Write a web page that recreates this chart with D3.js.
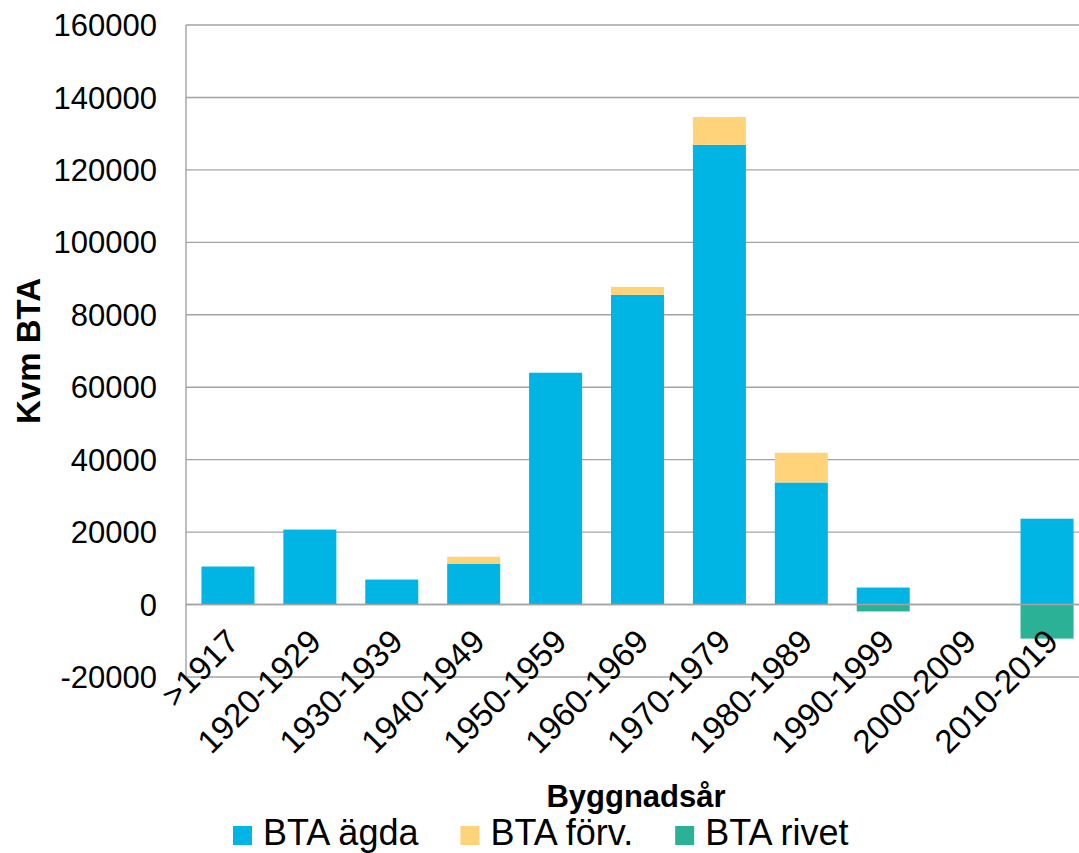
<!DOCTYPE html>
<html>
<head>
<meta charset="utf-8">
<script src="https://cdn.jsdelivr.net/npm/d3@7"></script>
<style>
  body { margin: 0; background: #fff; }
  text { font-family: "Liberation Sans", Arial, sans-serif; fill: #000; }
</style>
</head>
<body>
<script>
// data
var categories = [">1917", "1920-1929", "1930-1939", "1940-1949", "1950-1959", "1960-1969",
  "1970-1979", "1980-1989", "1990-1999", "2000-2009", "2010-2019"];
var agda  = [10500, 20700, 6900, 11300, 64000, 85500, 126900, 33700, 4700, 0, 23700];
var forv  = [0, 0, 0, 1900, 0, 2200, 7700, 8200, 0, 0, 0];
var rivet = [0, 0, 0, 0, 0, 0, 0, 0, -1900, 0, -9400];
var yTicks = [-20000, 0, 20000, 40000, 60000, 80000, 100000, 120000, 140000, 160000];
var seriesNames = ["BTA ägda", "BTA förv.", "BTA rivet"];
var colors = ["#00b4e3", "#ffd379", "#2ab196"];

var width = 1079, height = 853;

var svg = d3.select("body")
  .append("svg")
  .attr("width", width)
  .attr("height", height);

var x = d3.scaleBand()
  .domain(categories)
  .range([187, 1088])
  .paddingInner(0.353)
  .paddingOuter(0.1765);

var y = d3.scaleLinear()
  .domain([-20000, 160000])
  .range([677, 25]);

// gridlines
svg.append("g")
  .selectAll("line")
  .data(yTicks)
  .enter().append("line")
  .attr("x1", 186)
  .attr("x2", width)
  .attr("y1", function (d) { return y(d); })
  .attr("y2", function (d) { return y(d); })
  .style("stroke", "#a3a3a3")
  .style("stroke-width", 1.4);

// y axis line
svg.append("line")
  .attr("x1", 186).attr("x2", 186)
  .attr("y1", y(160000)).attr("y2", y(-20000))
  .style("stroke", "#a3a3a3")
  .style("stroke-width", 1.4);

// y tick labels
svg.append("g")
  .selectAll("text")
  .data(yTicks)
  .enter().append("text")
  .attr("x", 157)
  .attr("y", function (d) { return y(d); })
  .attr("dy", "0.36em")
  .attr("text-anchor", "end")
  .style("font-size", "31px")
  .text(function (d) { return d; });

// stacked bars
var rows = categories.map(function (c, i) {
  return { cat: c, agda: agda[i], forv: forv[i], rivet: rivet[i] };
});

var bars = svg.append("g");
rows.forEach(function (d) {
  // ägda from 0 up
  bars.append("rect")
    .attr("x", x(d.cat))
    .attr("width", x.bandwidth())
    .attr("y", y(d.agda))
    .attr("height", y(0) - y(d.agda))
    .style("fill", colors[0]);
  // förv. on top of ägda
  bars.append("rect")
    .attr("x", x(d.cat))
    .attr("width", x.bandwidth())
    .attr("y", y(d.agda + d.forv))
    .attr("height", y(d.agda) - y(d.agda + d.forv))
    .style("fill", colors[1]);
  // rivet below 0
  bars.append("rect")
    .attr("x", x(d.cat))
    .attr("width", x.bandwidth())
    .attr("y", y(0))
    .attr("height", y(d.rivet) - y(0))
    .style("fill", colors[2]);
});

// zero axis line on top
svg.append("line")
  .attr("x1", 186).attr("x2", width)
  .attr("y1", y(0)).attr("y2", y(0))
  .style("stroke", "#a3a3a3")
  .style("stroke-width", 1.4);

// x labels, rotated
svg.append("g")
  .selectAll("text")
  .data(categories)
  .enter().append("text")
  .attr("text-anchor", "end")
  .attr("transform", function (d) {
    return "translate(" + (x(d) + x.bandwidth() / 2 + 13) + "," + (y(0) + 39) + ") rotate(-45)";
  })
  .style("font-size", "33px")
  .text(function (d) { return d; });

// axis titles
svg.append("text")
  .attr("transform", "translate(40," + ((y(160000) + y(-20000)) / 2) + ") rotate(-90)")
  .attr("text-anchor", "middle")
  .style("font-size", "33px")
  .style("font-weight", "bold")
  .text("Kvm BTA");

svg.append("text")
  .attr("x", 636)
  .attr("y", 807)
  .attr("text-anchor", "middle")
  .style("font-size", "31px")
  .style("font-weight", "bold")
  .text("Byggnadsår");

// legend
var legend = svg.append("g");
var lx = 233;
seriesNames.forEach(function (name, i) {
  legend.append("rect")
    .attr("x", lx)
    .attr("y", 826)
    .attr("width", 19)
    .attr("height", 19)
    .style("fill", colors[i]);
  var t = legend.append("text")
    .attr("x", lx + 30)
    .attr("y", 845)
    .style("font-size", "36px")
    .text(name);
  lx = lx + 30 + t.node().getComputedTextLength() + 42;
});
</script>
</body>
</html>
